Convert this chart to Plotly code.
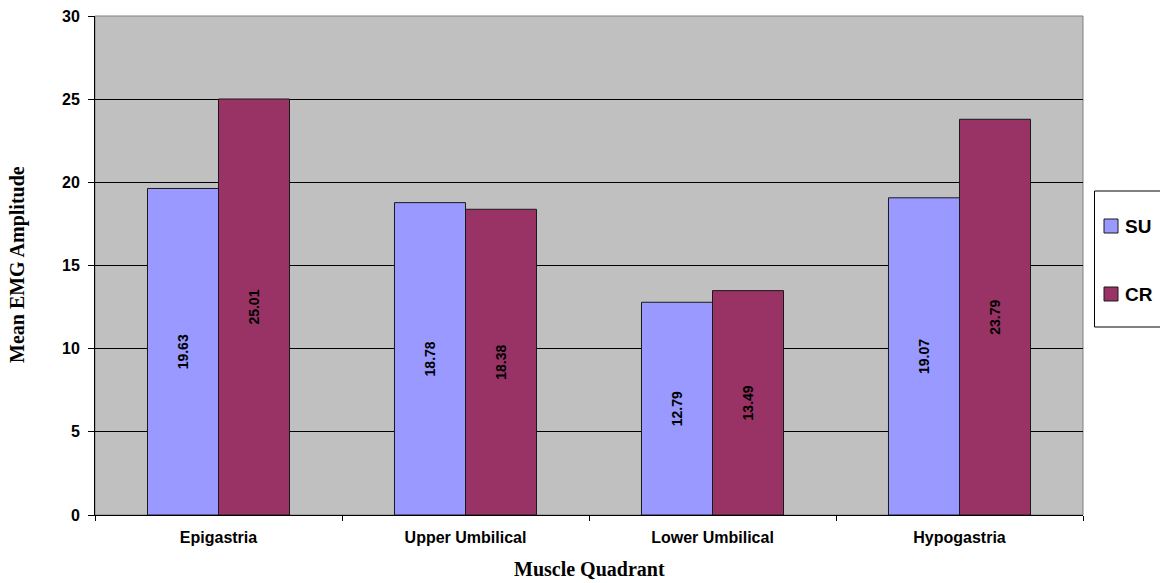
import plotly.graph_objects as go

# Mean EMG amplitude by abdominal muscle quadrant
categories = ["Epigastria", "Upper Umbilical", "Lower Umbilical", "Hypogastria"]
su_values = [19.63, 18.78, 12.79, 19.07]
cr_values = [25.01, 18.38, 13.49, 23.79]
y_ticks = [0, 5, 10, 15, 20, 25, 30]

SU_COLOR = "#9999FF"
CR_COLOR = "#993366"
W, H = 1160, 583
L, R, T, B = 95, 77, 16, 68
PW, PH = W - L - R, H - T - B


def px_x(x):
    return (x - L) / PW


def px_y(y):
    return (H - B - y) / PH


fig = go.Figure()
for name, vals, color in [("SU", su_values, SU_COLOR), ("CR", cr_values, CR_COLOR)]:
    fig.add_trace(go.Bar(
        name=name, x=categories, y=vals,
        marker=dict(color=color, line=dict(color="#1a1a1a", width=1)),
        text=[f"{v:.2f}" for v in vals],
        textposition="inside", insidetextanchor="middle", textangle=-90,
        textfont=dict(family="Liberation Sans, Arial", size=14, color="black", weight="bold"),
        showlegend=False, hoverinfo="x+y",
    ))

tick_font = dict(family="Liberation Sans, Arial", size=16, color="black", weight="bold")
title_font = dict(family="Liberation Serif, Times New Roman", size=20, color="black", weight="bold")

fig.update_layout(
    width=W, height=H,
    margin=dict(l=L, r=R, t=T, b=B, autoexpand=False),
    paper_bgcolor="white", plot_bgcolor="#C0C0C0",
    barmode="group", bargap=0.425, bargroupgap=0,
    xaxis=dict(
        type="category", tickson="boundaries", ticks="outside", ticklen=5,
        tickcolor="black", tickwidth=1, showline=True, linecolor="black", linewidth=1,
        showgrid=False, tickfont=tick_font, ticklabelstandoff=8, automargin=False,
    ),
    yaxis=dict(
        range=[0, 30], tickvals=y_ticks, ticks="outside", ticklen=6,
        tickcolor="black", tickwidth=1, showline=True, linecolor="black", linewidth=1,
        showgrid=True, gridcolor="black", gridwidth=1, zeroline=False,
        tickfont=tick_font, ticklabelstandoff=5, automargin=False,
    ),
    annotations=[
        dict(text="Muscle Quadrant", xref="paper", yref="paper", x=0.5, y=px_y(569),
             xanchor="center", yanchor="middle", showarrow=False, font=title_font),
        dict(text="Mean EMG Amplitude", xref="paper", yref="paper", x=px_x(17), y=px_y(265),
             xanchor="center", yanchor="middle", textangle=-90, showarrow=False, font=title_font),
    ],
)

# plot frame (top/right edges in gray)
fig.add_shape(type="rect", xref="paper", yref="paper", x0=0, y0=0, x1=1, y1=1,
              line=dict(color="#808080", width=1), layer="below")

# legend box
fig.add_shape(type="rect", xref="paper", yref="paper",
              x0=px_x(1094.5), x1=px_x(1175), y0=px_y(327), y1=px_y(191),
              line=dict(color="black", width=1), fillcolor="white")
legend_font = dict(family="Liberation Sans, Arial", size=19, color="black", weight="bold")
for name, color, yc in [("SU", SU_COLOR, 226), ("CR", CR_COLOR, 294)]:
    fig.add_shape(type="rect", xref="paper", yref="paper",
                  x0=px_x(1104), x1=px_x(1118), y0=px_y(yc + 7), y1=px_y(yc - 7),
                  line=dict(color="#1a1a1a", width=1), fillcolor=color)
    fig.add_annotation(text=name, xref="paper", yref="paper", x=px_x(1123), y=px_y(yc),
                       xanchor="left", yanchor="middle", showarrow=False, font=legend_font)

fig.write_html("out.html")
